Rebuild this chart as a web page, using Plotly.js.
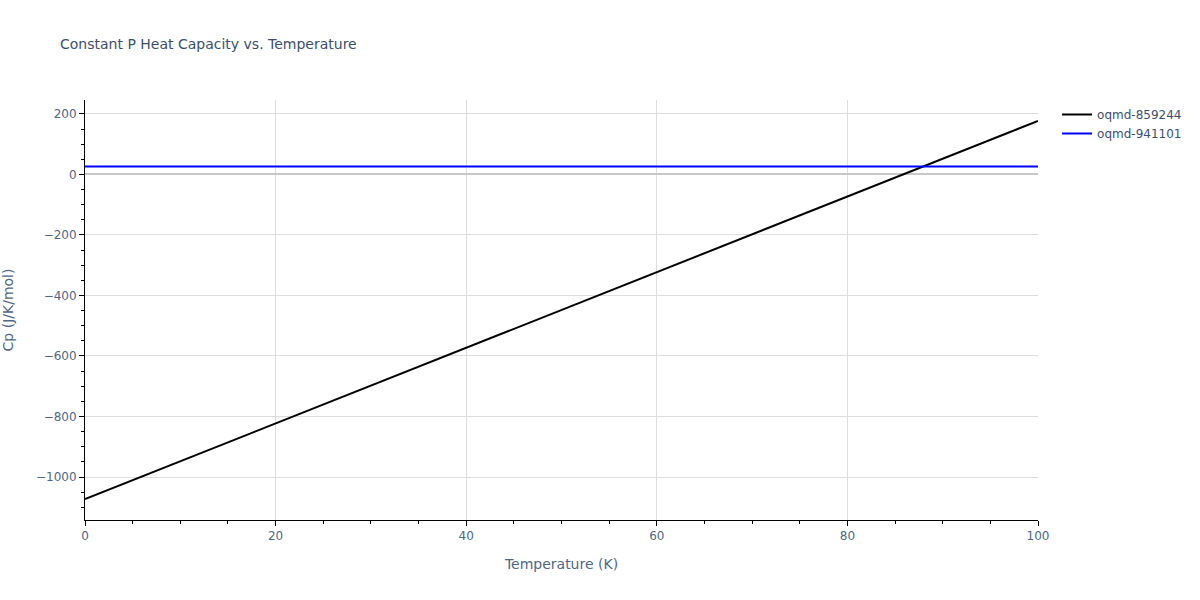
<!DOCTYPE html>
<html>
<head>
<meta charset="utf-8">
<script src="https://cdn.plot.ly/plotly-3.0.1.min.js"></script>
<style>html,body{margin:0;padding:0;background:#fff;}</style>
</head>
<body>
<div id="chart" style="width:1200px;height:600px;"></div>
<script>
const temperatures = [0, 10, 20, 30, 40, 50, 60, 70, 80, 90, 100];
const cpOqmd859244 = [-1073, -948, -823, -698, -573, -448, -323, -198, -73, 52, 177];
const cpOqmd941101 = [26, 26, 26, 26, 26, 26, 26, 26, 26, 26, 26];
const seriesNames = ['oqmd-859244', 'oqmd-941101'];

const traces = [
  {x: temperatures, y: cpOqmd859244, name: seriesNames[0], type: 'scatter', mode: 'lines', line: {color: 'black', width: 2}},
  {x: temperatures, y: cpOqmd941101, name: seriesNames[1], type: 'scatter', mode: 'lines', line: {color: 'blue', width: 2}}
];

const layout = {
  width: 1200, height: 600,
  paper_bgcolor: 'white', plot_bgcolor: 'white',
  font: {family: 'Verdana, "DejaVu Sans", sans-serif', color: '#506784'},
  margin: {l: 85, r: 162, t: 100, b: 80},
  title: {text: 'Constant P Heat Capacity vs. Temperature', x: 0.05, xanchor: 'left', y: 0.935, font: {size: 14, color: '#3c4f6b'}},
  showlegend: true,
  legend: {x: 1.02, y: 1, xanchor: 'left', yanchor: 'top', font: {size: 12, color: '#3c4f6b'}},
  xaxis: {
    title: {text: 'Temperature (K)', standoff: 16, font: {size: 14, color: '#506784'}},
    range: [0, 100], dtick: 20,
    showline: true, linecolor: 'black', linewidth: 1,
    ticks: 'outside', tickcolor: 'black', ticklen: 5,
    minor: {dtick: 5, ticks: 'outside', ticklen: 3, tickcolor: 'black', showgrid: false},
    showgrid: true, gridcolor: '#ddd', zeroline: false,
    tickfont: {color: '#506784', size: 12}
  },
  yaxis: {
    title: {text: 'Cp (J/K/mol)', standoff: 20, font: {size: 14, color: '#506784'}},
    range: [-1142, 246], dtick: 200,
    showline: true, linecolor: 'black', linewidth: 1,
    ticks: 'outside', tickcolor: 'black', ticklen: 5,
    minor: {dtick: 50, ticks: 'outside', ticklen: 3, tickcolor: 'black', showgrid: false},
    showgrid: true, gridcolor: '#ddd', zeroline: true, zerolinecolor: '#c8c8c8', zerolinewidth: 2,
    tickfont: {color: '#506784', size: 12}
  }
};

Plotly.newPlot('chart', traces, layout, {displayModeBar: false});
</script>
</body>
</html>
